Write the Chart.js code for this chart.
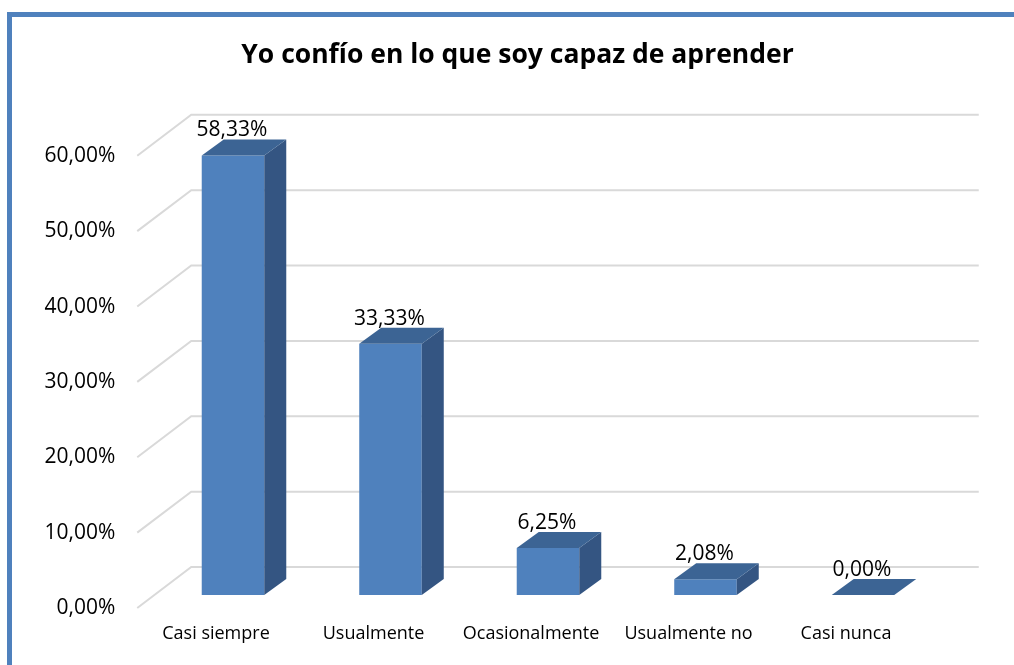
<!DOCTYPE html>
<html>
<head>
<meta charset="utf-8">
<script src="https://cdn.jsdelivr.net/npm/chart.js@4"></script>
<style>
  body { margin: 0; background: #fff; }
  #wrap { position: relative; width: 1014px; height: 665px; overflow: hidden; }
  #frame { position: absolute; left: 7px; top: 12px; width: 1100px; height: 700px;
           border-left: 5px solid #4f81bd; border-top: 5px solid #4f81bd; }
  canvas { position: absolute; left: 0; top: 0; }
</style>
</head>
<body>
<div id="wrap">
  <div id="frame"></div>
  <canvas id="chart" width="1014" height="665"></canvas>
</div>
<script>
// data
const categories = ['Casi siempre', 'Usualmente', 'Ocasionalmente', 'Usualmente no', 'Casi nunca'];
const percentages = [58.33, 33.33, 6.25, 2.08, 0.00];
const axisMin = 0;
const axisMax = 60;
const axisStep = 10;

const chartTitle = 'Yo confío en lo que soy capaz de aprender';

// colours of the 3d faces
const frontColor = '#4f81bd';
const topColor = '#3c6494';
const sideColor = '#345582';
const gridColor = '#d9d9d9';

// offsets of the fake 3d planes, relative to the bar front plane
const frontDx = -17, frontDy = 13;
const backDx = 37, backDy = -28;
const barDx = 22, barDy = -16;

// 58.33 -> "58,33%"
const fmt = v => v.toFixed(2).replace('.', ',') + '%';

const box3d = {
    id: 'box3d',
    beforeDatasetsDraw(chart) {
        const { ctx, scales: { x, y } } = chart;
        ctx.save();
        ctx.strokeStyle = gridColor;
        ctx.lineWidth = 2;
        // side wall diagonals + back wall lines
        y.ticks.forEach(t => {
            const py = y.getPixelForValue(t.value);
            ctx.beginPath();
            ctx.moveTo(x.left + frontDx, py + frontDy);
            ctx.lineTo(x.left + backDx, py + backDy);
            ctx.lineTo(x.right + backDx, py + backDy);
            ctx.stroke();
        });
        ctx.restore();
    },
    afterDatasetsDraw(chart) {
        const ctx = chart.ctx;
        const meta = chart.getDatasetMeta(0);
        ctx.save();
        meta.data.forEach((bar, i) => {
            const { x, y, base, width } = bar.getProps(['x', 'y', 'base', 'width'], true);
            const l = x - width / 2;
            const r = x + width / 2;

            // right side face
            if (base - y > 0.5) {
                ctx.fillStyle = sideColor;
                ctx.beginPath();
                ctx.moveTo(r, y);
                ctx.lineTo(r + barDx, y + barDy);
                ctx.lineTo(r + barDx, base + barDy);
                ctx.lineTo(r, base);
                ctx.closePath();
                ctx.fill();
            }

            // top face
            ctx.fillStyle = topColor;
            ctx.beginPath();
            ctx.moveTo(l, y);
            ctx.lineTo(r, y);
            ctx.lineTo(r + barDx, y + barDy);
            ctx.lineTo(l + barDx, y + barDy);
            ctx.closePath();
            ctx.fill();

            // value label
            ctx.fillStyle = '#000';
            ctx.font = '21px "Open Sans"';
            ctx.textAlign = 'center';
            ctx.textBaseline = 'alphabetic';
            ctx.fillText(fmt(percentages[i]), x - 1, y + barDy - 3);
        });
        ctx.restore();
    }
};

new Chart(document.querySelector('#chart').getContext('2d'), {
    type: 'bar',
    data: {
        labels: categories,
        datasets: [{
            data: percentages,
            backgroundColor: frontColor,
            borderWidth: 0,
            categoryPercentage: 1,
            barPercentage: 0.397
        }]
    },
    options: {
        responsive: false,
        animation: false,
        layout: { padding: { left: 21, right: 0, top: 0, bottom: 0 } },
        plugins: {
            legend: { display: false },
            tooltip: { enabled: false },
            title: {
                display: true,
                text: chartTitle,
                color: '#000',
                font: { family: 'Open Sans', size: 26.5, weight: 'bold' },
                padding: { top: 40, bottom: 71 }
            }
        },
        scales: {
            x: {
                grid: { display: false, drawTicks: false },
                border: { display: false },
                ticks: {
                    color: '#000',
                    font: { family: 'Open Sans', size: 18 },
                    labelOffset: frontDx,
                    padding: 28,
                    maxRotation: 0,
                    autoSkip: false
                },
                afterFit: scale => { scale.height = 70; }
            },
            y: {
                min: axisMin,
                max: axisMax,
                grid: { display: false, drawTicks: false },
                border: { display: false },
                ticks: {
                    stepSize: axisStep,
                    color: '#000',
                    font: { family: 'Open Sans', size: 21 },
                    labelOffset: frontDy,
                    padding: 39,
                    callback: v => fmt(v)
                },
                afterFit: scale => { scale.width = 133.25; }
            },
            // empty right axis, only reserves the space right of the plot
            yRight: {
                position: 'right',
                min: axisMin,
                max: axisMax,
                grid: { display: false, drawTicks: false },
                border: { display: false },
                ticks: { display: false },
                afterFit: scale => { scale.width = 72.25; }
            }
        }
    },
    plugins: [box3d]
});
</script>
</body>
</html>
